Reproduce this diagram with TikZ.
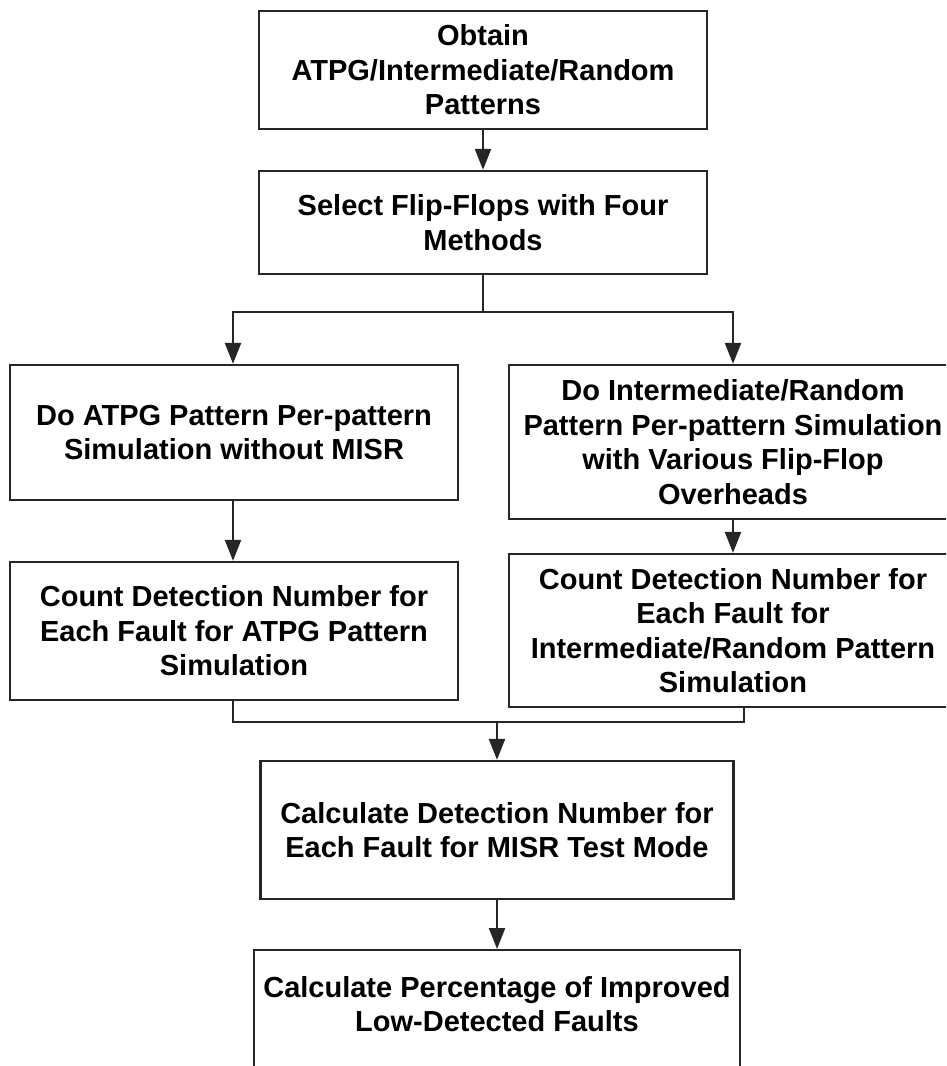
\documentclass[tikz,border=0pt]{standalone}
\usepackage{fontspec}
\setmainfont{Liberation Sans}
\usetikzlibrary{arrows.meta,calc}
\begin{document}
\begin{tikzpicture}[x=1pt,y=-1pt,
  box/.style={draw=black!85, line width=2.4pt, align=center, inner sep=0pt,
    font=\fontsize{29}{34.5}\selectfont\bfseries, fill=white},
  txt/.style={align=center, inner sep=0pt, font=\fontsize{29}{34.5}\selectfont\bfseries},
  conn/.style={draw=black!85, line width=2.4pt},
  arr/.style={conn, -{Triangle[length=21pt,width=16pt]}}]
\fill[white] (0,0) rectangle (946,1066);
\clip (0,0) rectangle (946,1066);
\useasboundingbox (0,0) rectangle (946,1066);

\node[box, minimum width=448, minimum height=118] (b1) at (483,70)
  {Obtain\\ATPG/Intermediate/Random\\Patterns};
\node[box, minimum width=448, minimum height=103] (b2) at (483,222.5)
  {Select Flip-Flops with Four\\Methods};
\node[box, minimum width=448, minimum height=135] (b3) at (234,432.5)
  {Do ATPG Pattern Per-pattern\\Simulation without MISR};
\node[box, minimum width=448, minimum height=154] (b4) at (733,442)
  {Do Intermediate/Random\\Pattern Per-pattern Simulation\\with Various Flip-Flop\\Overheads};
\node[box, minimum width=448, minimum height=138] (b5) at (234,631)
  {Count Detection Number for\\Each Fault for ATPG Pattern\\Simulation};
\node[box, minimum width=448, minimum height=153] (b6) at (733,630.5)
  {Count Detection Number for\\Each Fault for\\Intermediate/Random Pattern\\Simulation};
\node[box, minimum width=473, minimum height=138] (b7) at (497,830)
  {Calculate Detection Number for\\Each Fault for MISR Test Mode};
\node[box, minimum width=486, minimum height=140, anchor=north] (b8) at (497,949) {};
\node[txt] (b8t) at (497,1004)
  {Calculate Percentage of Improved\\Low-Detected Faults};

\coordinate (split) at (483,312);
\coordinate (merge) at (497,722);
\coordinate (b6out) at ([xshift=11pt]b6.south);

\draw[arr] (b1.south) -- (b2.north);
\draw[conn] (b2.south) -- (split);
\draw[arr] (split) -| ([xshift=-1pt]b3.north);
\draw[arr] (split) -| (b4.north);
\draw[arr] ([xshift=-1pt]b3.south) -- ([xshift=-1pt]b5.north);
\draw[arr] (b4.south) -- (b6.north);
\draw[conn] ([xshift=-1pt]b5.south) |- (merge);
\draw[conn] (b6out) |- (merge);
\draw[arr] (merge) -- (merge |- b7.north);
\draw[arr] (b7.south) -- (b8.north);
\end{tikzpicture}
\end{document}
